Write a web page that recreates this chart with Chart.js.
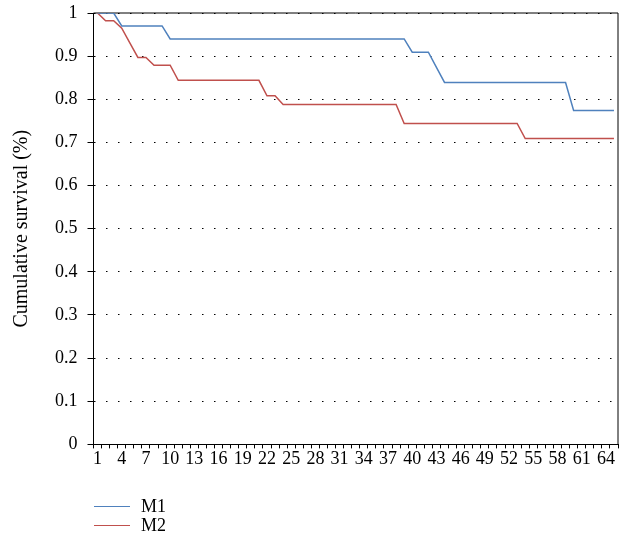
<!DOCTYPE html>
<html>
<head>
<meta charset="utf-8">
<script src="https://cdn.jsdelivr.net/npm/chart.js@4.4.0/dist/chart.umd.min.js"></script>
<style>
    body { margin: 0; background: #fff; }
    .wrap { position: relative; width: 621px; height: 548px; }
    #chart { position: absolute; left: 0; top: 0; }
    .legend { position: absolute; left: 94px; top: 497px; font-family: "Liberation Serif", "DejaVu Serif", serif; font-size: 18px; color: #000; }
    .legend div { display: flex; align-items: center; height: 19px; }
    .legend span.line { display: inline-block; width: 36px; height: 0; border-top: 1.5px solid; margin-right: 11px; }
</style>
</head>
<body>
<div class="wrap">
    <canvas id="chart" width="621" height="548"></canvas>
    <div class="legend" id="legend"></div>
</div>
<script>
const categories = Array.from({ length: 65 }, (_, i) => String(i + 1));

const m1 = [
    1, 1, 1, 0.97, 0.97, 0.97, 0.97, 0.97, 0.97, 0.94,
    0.94, 0.94, 0.94, 0.94, 0.94, 0.94, 0.94, 0.94, 0.94, 0.94,
    0.94, 0.94, 0.94, 0.94, 0.94, 0.94, 0.94, 0.94, 0.94, 0.94,
    0.94, 0.94, 0.94, 0.94, 0.94, 0.94, 0.94, 0.94, 0.94, 0.909,
    0.909, 0.909, 0.874, 0.839, 0.839, 0.839, 0.839, 0.839, 0.839, 0.839,
    0.839, 0.839, 0.839, 0.839, 0.839, 0.839, 0.839, 0.839, 0.839, 0.774,
    0.774, 0.774, 0.774, 0.774, 0.774
];

const m2 = [
    1, 0.982, 0.982, 0.965, 0.931, 0.897, 0.897, 0.879, 0.879, 0.879,
    0.844, 0.844, 0.844, 0.844, 0.844, 0.844, 0.844, 0.844, 0.844, 0.844,
    0.844, 0.808, 0.808, 0.788, 0.788, 0.788, 0.788, 0.788, 0.788, 0.788,
    0.788, 0.788, 0.788, 0.788, 0.788, 0.788, 0.788, 0.788, 0.744, 0.744,
    0.744, 0.744, 0.744, 0.744, 0.744, 0.744, 0.744, 0.744, 0.744, 0.744,
    0.744, 0.744, 0.744, 0.709, 0.709, 0.709, 0.709, 0.709, 0.709, 0.709,
    0.709, 0.709, 0.709, 0.709, 0.709
];

const seriesNames = ['M1', 'M2'];
const seriesColors = ['#4f81bd', '#c0504d'];

const font = { family: '"Liberation Serif", "DejaVu Serif", serif', size: 18 };

// top + right frame lines of the plot
const frame = {
    id: 'frame',
    beforeDatasetsDraw(chart) {
        const { ctx, chartArea: a } = chart;
        ctx.save();
        ctx.strokeStyle = '#000';
        ctx.lineWidth = 1;
        ctx.beginPath();
        ctx.moveTo(a.left, a.top);
        ctx.lineTo(a.right, a.top);
        ctx.lineTo(a.right, a.bottom);
        ctx.stroke();
        ctx.restore();
    }
};

new Chart(document.getElementById('chart'), {
    type: 'line',
    data: {
        labels: categories,
        datasets: [m1, m2].map((d, i) => ({
            label: seriesNames[i],
            data: d,
            borderColor: seriesColors[i],
            borderWidth: 1.5,
            pointRadius: 0,
            tension: 0,
            fill: false
        }))
    },
    options: {
        responsive: false,
        animation: false,
        layout: { padding: { top: 0, right: 3, bottom: 78, left: 1 } },
        plugins: {
            legend: { display: false },
            tooltip: { enabled: false }
        },
        scales: {
            x: {
                offset: true,
                grid: { offset: true, drawOnChartArea: false, tickLength: 4, color: '#000' },
                border: { color: '#000', width: 1 },
                ticks: {
                    color: '#000',
                    font: font,
                    autoSkip: false,
                    maxRotation: 0,
                    minRotation: 0,
                    padding: 0,
                    callback: (v, i) => (i % 3 === 0 ? categories[i] : '')
                }
            },
            y: {
                min: 0,
                max: 1,
                afterFit: s => { s.paddingTop = 13; },
                ticks: {
                    stepSize: 0.1,
                    color: '#000',
                    font: font,
                    padding: 10,
                    callback: v => String(+v.toFixed(2))
                },
                grid: { color: '#000', lineWidth: 1, tickLength: 6 },
                border: { color: '#000', width: 1, dash: [1.5, 10.5] },
                title: {
                    display: true,
                    text: 'Cumulative survival (%)',
                    color: '#000',
                    font: { family: font.family, size: 20 },
                    padding: { top: 9, bottom: 11 }
                }
            }
        }
    },
    plugins: [frame]
});

const legend = document.getElementById('legend');
seriesNames.forEach((name, i) => {
    const row = document.createElement('div');
    row.innerHTML = '<span class="line" style="border-color:' + seriesColors[i] + '"></span>' + name;
    legend.appendChild(row);
});
</script>
</body>
</html>
